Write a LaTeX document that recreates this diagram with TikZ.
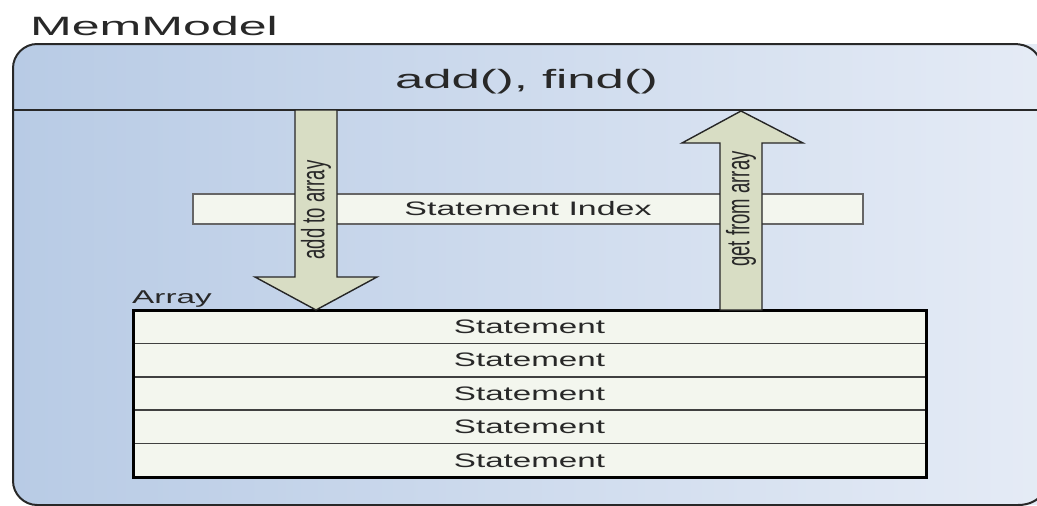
\documentclass[tikz,border=0pt]{standalone}
\usepackage{fontspec}
\setmainfont{Liberation Sans}
\usepackage{graphicx}
\definecolor{memL}{RGB}{184,203,229}
\definecolor{memR}{RGB}{230,236,246}
\definecolor{arrowfill}{RGB}{216,221,196}
\definecolor{boxfill}{RGB}{243,246,238}
\definecolor{ink}{RGB}{40,40,40}
\newcommand{\htxt}[3]{{\fontsize{#1}{#1}\selectfont\scalebox{#2}[1]{#3}}}
\newcommand{\vtxt}[3]{{\fontsize{#1}{#1}\selectfont\scalebox{1}[#2]{#3}}}
\tikzset{
  lbl/.style={inner sep=0pt, text=ink},
  rowbox/.style={draw=black!75, line width=1.6pt, fill=boxfill, minimum width=793pt, minimum height=33.4pt, inner sep=0pt, outer sep=0pt, text=ink},
  idxbox/.style={draw=black!60, line width=1.5pt, fill=boxfill, minimum width=670pt, minimum height=30pt, inner sep=0pt, outer sep=0pt, text=ink},
  blockarrow/.style={draw=black!85, line width=1.4pt, fill=arrowfill, line join=miter},
  frame/.style={draw=ink, line width=2pt},
}
\begin{document}
\begin{tikzpicture}[x=1pt,y=-1pt]
\useasboundingbox (0,0) rectangle (1037,506);
\clip (0,0) rectangle (1037,506);
% container
\shade[left color=memL, right color=memR] (1070,44) -- (37,44) .. controls (24,44) and (13,55) .. (13,68) -- (13,481) .. controls (13,494) and (24,505) .. (37,505) -- (1070,505) -- cycle;
\draw[frame] (1041,62) .. controls (1037,51) and (1028,44) .. (1014,44) -- (37,44) .. controls (24,44) and (13,55) .. (13,68) -- (13,481) .. controls (13,494) and (24,505) .. (37,505) -- (1018,505) .. controls (1030,505) and (1038,500) .. (1042,494);
\coordinate (divL) at (13,110);
\coordinate (divR) at (1060,110);
\draw[frame] (divL) -- (divR);
% titles
\node[lbl, anchor=base] (title) at (154,35) {\htxt{26.5}{1.89}{MemModel}};
\node[lbl, anchor=base] (ops) at (526.5,88) {\htxt{26.5}{1.92}{add(), find()}};
% statement index
\node[idxbox] (index) at (528,209) {\htxt{19.5}{1.74}{Statement Index}};
% array
\node[lbl, anchor=base west] (arraylbl) at (132,303) {\htxt{18.5}{1.8}{Array}};
\node[rowbox] (r1) at (529.5,326.7) {\htxt{19.5}{1.70}{Statement}};
\node[rowbox, anchor=north] (r2) at (r1.south) {\htxt{19.5}{1.70}{Statement}};
\node[rowbox, anchor=north] (r3) at (r2.south) {\htxt{19.5}{1.70}{Statement}};
\node[rowbox, anchor=north] (r4) at (r3.south) {\htxt{19.5}{1.70}{Statement}};
\node[rowbox, anchor=north] (r5) at (r4.south) {\htxt{19.5}{1.70}{Statement}};
\draw[draw=black, line width=3pt] (r1.north west) rectangle (r5.south east);
% add to array arrow
\draw[blockarrow] (295,110) -- (337,110) -- (337,277) -- (377,277) -- (316,310) -- (255,277) -- (295,277) -- cycle;
\node[lbl, rotate=90] (addlbl) at (316,210) {\vtxt{18.5}{1.75}{add to array}};
% get from array arrow
\draw[blockarrow] (720,310) -- (720,143) -- (682,143) -- (741,111) -- (803,143) -- (762,143) -- (762,310) -- cycle;
\node[lbl, rotate=90] (getlbl) at (741,209) {\vtxt{18.5}{1.75}{get from array}};
\end{tikzpicture}
\end{document}
